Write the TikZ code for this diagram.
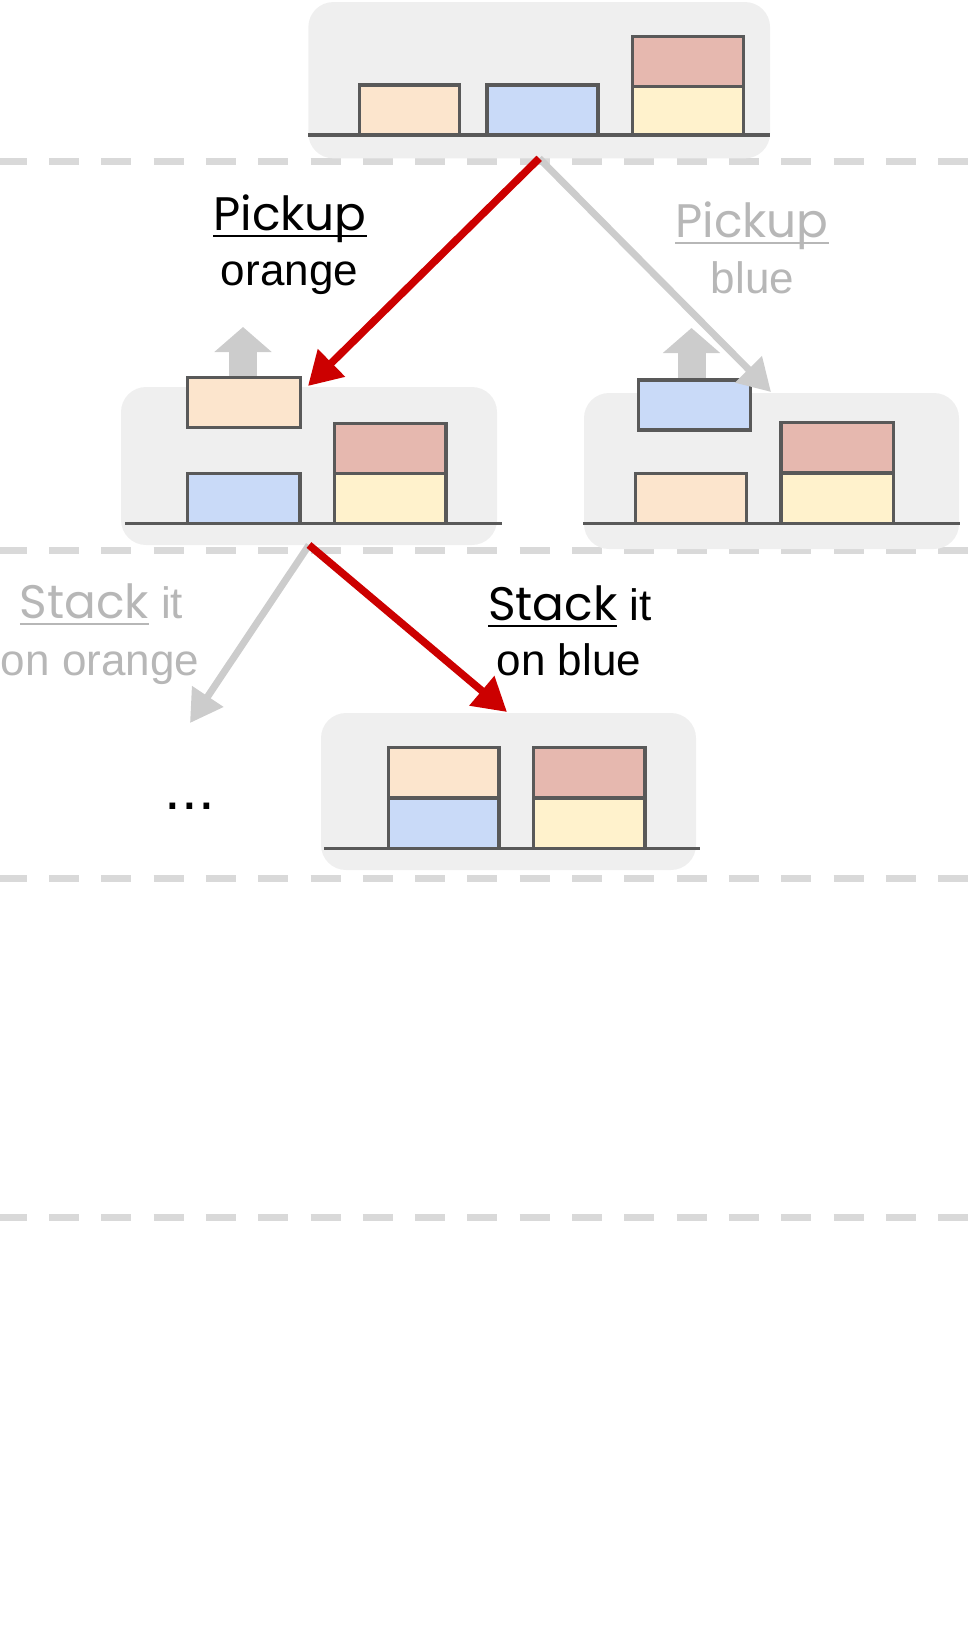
\documentclass[tikz,border=0pt]{standalone}
\usepackage{fontspec}
\setmainfont{Liberation Sans}
\newfontfamily\qsfont{Poppins}
\usetikzlibrary{arrows.meta}
\definecolor{panelbg}{HTML}{EFEFEF}
\definecolor{boxline}{HTML}{595959}
\definecolor{orangebox}{HTML}{FCE5CD}
\definecolor{bluebox}{HTML}{C9DAF8}
\definecolor{redbox}{HTML}{E6B8AF}
\definecolor{yellowbox}{HTML}{FFF2CC}
\definecolor{arrowred}{HTML}{CC0000}
\definecolor{arrowgray}{HTML}{CCCCCC}
\definecolor{dashgray}{HTML}{D9D9D9}
\definecolor{textgray}{HTML}{B7B7B7}
\newcommand\myul[1]{\setbox0=\hbox{\fontsize{47}{53}\qsfont #1}\rlap{\rule[-7pt]{\wd0}{2pt}}\box0\relax}
\tikzset{
  panel/.style={rectangle, rounded corners=25pt, fill=panelbg, draw=none, inner sep=0pt, outer sep=0pt},
  blk/.style={rectangle, draw=boxline, line width=3.4pt, minimum width=111pt, minimum height=50pt, inner sep=0pt, outer sep=0pt, anchor=south west},
  ob/.style={blk, fill=orangebox},
  bb/.style={blk, fill=bluebox},
  rb/.style={blk, fill=redbox},
  yb/.style={blk, fill=yellowbox},
  ground/.style={draw=boxline, line width=3.4pt},
  sepline/.style={draw=dashgray, line width=7pt, dash pattern=on 30pt off 22.3pt, dash phase=3.3pt},
  redarrow/.style={draw=arrowred, line width=7.5pt, -{Triangle[length=33pt,width=37pt]}},
  grayarrow/.style={draw=arrowgray, line width=7pt, -{Triangle[length=32pt,width=36pt]}},
  liftarrow/.style={draw=arrowgray, line width=28pt, -{Triangle[length=25pt,width=56pt]}},
  lbl/.style={inner sep=0pt, outer sep=0pt, anchor=base, font=\fontsize{44}{53}\selectfont},
}
\begin{document}
\begin{tikzpicture}[x=1pt,y=-1pt]
\useasboundingbox (0,0) rectangle (969,1625);
% separators
\draw[sepline] (0,161) -- (969,161);
\draw[sepline] (0,550) -- (969,550);
\draw[sepline] (0,878) -- (969,878);
\draw[sepline] (0,1217) -- (969,1217);
% panels
\node[panel, minimum width=461.7pt, minimum height=156.3pt] (p1) at (539.2,80.2) {};
\node[panel, minimum width=376pt, minimum height=158pt] (p2) at (309,466) {};
\node[panel, minimum width=375pt, minimum height=156pt] (p3) at (771.5,471) {};
\node[panel, minimum width=375pt, minimum height=157pt] (p4) at (508.5,791.5) {};
% ground lines
\draw[ground] (308.3,135) -- (770,135);
\draw[ground] (125,523.3) -- (502,523.3);
\draw[ground] (583,523.3) -- (960,523.3);
\draw[ground] (324,848.3) -- (700,848.3);
% panel 1 boxes
\node[ob, minimum width=100pt] (p1o) at (359.7,135) {};
\node[bb] (p1b) at (487,135) {};
\node[yb, minimum width=110.6pt] (p1y) at (632.7,135) {};
\node[rb, minimum width=110.6pt] (p1r) at (632.7,86.3) {};
% panel 2 boxes
\node[bb, minimum width=112.3pt] (p2b) at (187.7,523.3) {};
\node[yb, minimum width=111.7pt] (p2y) at (334.3,523.3) {};
\node[rb, minimum width=111.7pt] (p2r) at (334.3,473.3) {};
\draw[liftarrow] (243,427.7) -- (243,327);
\node[ob, minimum width=112.8pt] (p2o) at (187.5,427.7) {};
% panel 3 boxes
\node[ob, minimum width=110.6pt] (p3o) at (635.7,523.3) {};
\node[yb, minimum width=112.3pt] (p3y) at (781,523.3) {};
\node[rb, minimum width=112.3pt] (p3r) at (781,472.7) {};
\draw[liftarrow] (691.5,430) -- (691.5,328);
\node[bb, minimum width=112pt] (p3b) at (638.3,430) {};
% panel 4 boxes
\node[bb, minimum width=110.7pt] (p4b) at (388.3,848.3) {};
\node[ob, minimum width=110.7pt] (p4o) at (388.3,797.7) {};
\node[yb, minimum width=111.3pt] (p4y) at (533.7,848.3) {};
\node[rb, minimum width=111.3pt] (p4r) at (533.7,797.7) {};
% arrow end points
\coordinate (t1) at (308,386);
\coordinate (t2) at (771,392);
\coordinate (t3) at (507,712);
\coordinate (t4) at (190,723);
\coordinate (s1) at (p1.south);
\coordinate (s2) at (p2.south);
\draw[grayarrow] (s1) -- (t2);
\draw[redarrow] (s1) -- (t1);
\draw[grayarrow] (s2) -- (t4);
\draw[redarrow] (s2) -- (t3);
% labels
\node[lbl] (l1a) at (290,230) {\myul{Pickup}};
\node[lbl] (l1b) at (289.5,285) {orange};
\node[lbl, text=textgray] (l2a) at (752,237) {\myul{Pickup}};
\node[lbl, text=textgray] (l2b) at (752.5,293) {blue};
\node[lbl, text=textgray] (l3a) at (101.5,618) {\myul{Stack} it};
\node[lbl, text=textgray] (l3b) at (100,675) {on orange};
\node[lbl] (l4a) at (570,620) {\myul{Stack} it};
\node[lbl] (l4b) at (569,675) {on blue};
\node[lbl, font=\fontsize{60}{62}\selectfont] (dots) at (190,809) {...};
\end{tikzpicture}
\end{document}
